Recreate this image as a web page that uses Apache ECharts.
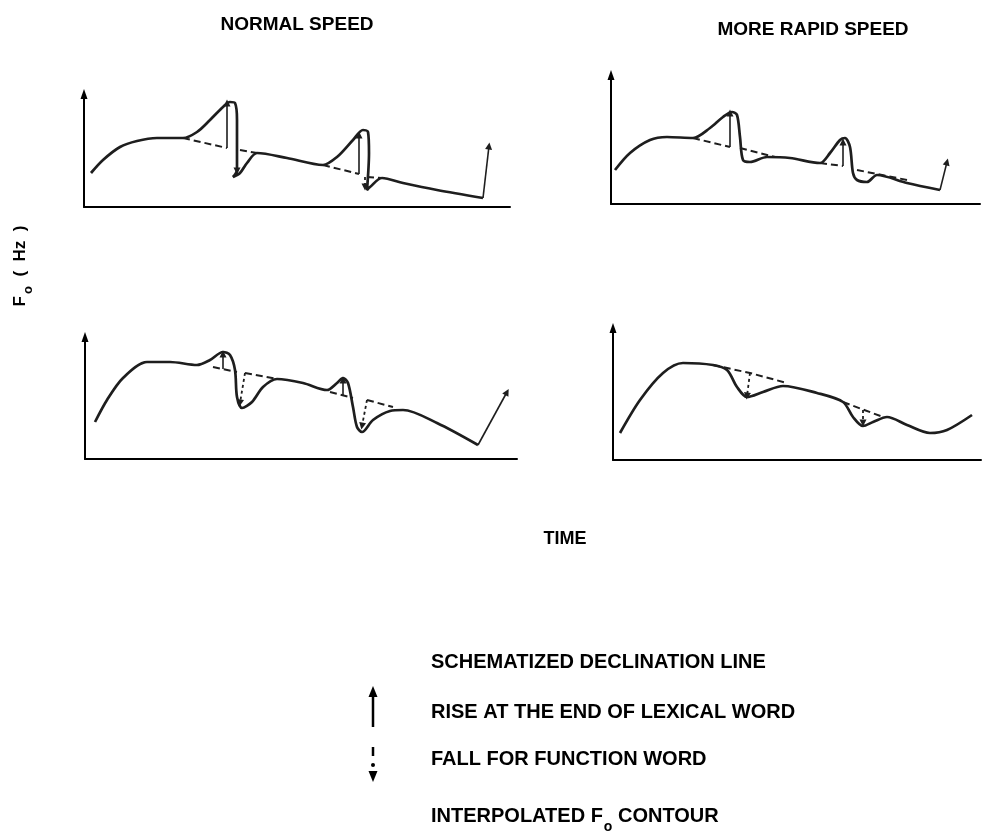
<!DOCTYPE html>
<html><head><meta charset="utf-8">
<script src="https://cdn.jsdelivr.net/npm/echarts@6/dist/echarts.min.js"></script>
<style>html,body{margin:0;padding:0;background:#fff}#c{width:982px;height:832px}</style>
</head><body><div id="c"></div>
<script>
// ---- texts ----
const panelTitles = ['NORMAL SPEED', 'MORE RAPID SPEED'];
const xAxisLabel = 'TIME';
const legendLabels = ['SCHEMATIZED DECLINATION LINE', 'RISE AT THE END OF LEXICAL WORD', 'FALL FOR FUNCTION WORD', 'INTERPOLATED F'];

// ---- panel 1: normal speed, rises ----
const p1Contour = [[7,34],[19,47],[36,60],[53,66],[73,69],[99,69],[113,75],[126,87],[139,100],[146,105],[151,104],[153,87],[153,37],[149,30],[156,34],[163,44],[173,54],[203,49],[239,42],[253,50],[269,67],[279,77],[284,75],[285,54],[283,17],[286,20],[298,29],[319,24],[353,17],[399,9]];
const p1Declination = [[[99,69],[143,59]], [[156,57],[173,54]], [[239,42],[275,33]], [[283,30],[298,29]]];
const p1Rises = [[[143,59],[143,104]], [[275,33],[275,72]], [[399,9],[405,61]]];
const p1Falls = [[[153,57],[153,36]], [[281,30],[281,20]]];

// ---- panel 2: rapid speed, rises ----
const p2Contour = [[4,34],[19,51],[39,64],[56,67],[82,66],[99,76],[112,87],[121,92],[126,89],[129,67],[132,44],[139,42],[156,47],[179,46],[209,41],[219,51],[229,64],[234,66],[239,57],[242,31],[246,24],[256,22],[266,29],[296,21],[329,14]];
const p2Declination = [[[82,66],[119,57]], [[129,56],[164,47]], [[209,41],[232,38]], [[246,34],[296,24]]];
const p2Rises = [[[119,57],[119,91]], [[232,38],[232,62]], [[329,14],[336,42]]];
const p2Falls = [];

// ---- panel 3: normal speed, falls ----
const p3Contour = [[10,37],[22,59],[38,81],[62,97],[85,97],[112,94],[125,99],[138,107],[145,104],[150,89],[152,62],[157,51],[167,57],[178,72],[192,80],[218,76],[242,69],[252,76],[258,81],[263,76],[268,52],[272,32],[277,27],[288,39],[305,48],[318,49],[352,36],[393,14]];
const p3Declination = [[[128,92],[152,87]], [[160,86],[192,80]], [[245,67],[268,61]], [[282,59],[308,52]]];
const p3Rises = [[[138,90],[138,105]], [[258,64],[258,79]], [[393,14],[422,67]]];
const p3Falls = [[[160,86],[155,56]], [[282,59],[277,33]]];

// ---- panel 4: rapid speed, falls ----
const p4Contour = [[7,27],[27,60],[50,87],[70,97],[100,95],[114,90],[124,73],[134,63],[150,68],[170,74],[204,67],[230,58],[240,43],[250,34],[260,38],[274,43],[294,35],[317,27],[334,30],[359,45]];
const p4Declination = [[[100,95],[137,87],[174,77]], [[230,58],[270,43]]];
const p4Rises = [];
const p4Falls = [[[137,87],[134,64]], [[250,50],[250,37]]];

// ---- layout ----
const panels = [
  {grid:{left:84, top:94, width:426, height:113}, contour:p1Contour, decl:p1Declination, rises:p1Rises, falls:p1Falls},
  {grid:{left:611, top:75, width:369, height:129}, contour:p2Contour, decl:p2Declination, rises:p2Rises, falls:p2Falls},
  {grid:{left:85, top:337, width:432, height:122}, contour:p3Contour, decl:p3Declination, rises:p3Rises, falls:p3Falls},
  {grid:{left:613, top:328, width:368, height:132}, contour:p4Contour, decl:p4Declination, rises:p4Rises, falls:p4Falls}
];

const INK = '#1e1e1e';
const FONT = 'Liberation Sans';

const grids = [], xAxes = [], yAxes = [], series = [];
panels.forEach((p, i) => {
  grids.push(Object.assign({containLabel:false}, p.grid));
  xAxes.push({type:'value', gridIndex:i, min:0, max:p.grid.width,
    axisLine:{show:true, onZero:false, lineStyle:{color:'#000', width:2}},
    axisTick:{show:false}, axisLabel:{show:false}, splitLine:{show:false}});
  yAxes.push({type:'value', gridIndex:i, min:0, max:p.grid.height,
    axisLine:{show:true, onZero:false, symbol:['none','triangle'], symbolSize:[7,10], lineStyle:{color:'#000', width:2}},
    axisTick:{show:false}, axisLabel:{show:false}, splitLine:{show:false}});
  series.push({
    type:'line', name:'INTERPOLATED F0 CONTOUR', xAxisIndex:i, yAxisIndex:i,
    data:p.contour, smooth:0.3, showSymbol:false, silent:true,
    lineStyle:{color:INK, width:2.7},
    markLine:{silent:true, symbol:['none','triangle'], symbolSize:7, label:{show:false},
      itemStyle:{color:INK},
      lineStyle:{color:INK, width:1.6, type:'solid'},
      emphasis:{disabled:true},
      data:p.rises.map(s => [{coord:s[0]}, {coord:s[1]}])}
  });
  p.decl.forEach((seg, k) => {
    const s = {
      type:'line', name:'SCHEMATIZED DECLINATION LINE', xAxisIndex:i, yAxisIndex:i,
      data:seg, showSymbol:false, silent:true,
      lineStyle:{color:INK, width:2, type:[7,4]}
    };
    if (k === 0 && p.falls.length) {
      s.markLine = {silent:true, symbol:['none','triangle'], symbolSize:7, label:{show:false},
        itemStyle:{color:INK},
        lineStyle:{color:INK, width:1.8, type:[3,3]},
        emphasis:{disabled:true},
        data:p.falls.map(f => [{coord:f[0]}, {coord:f[1]}])};
    }
    series.push(s);
  });
});

const mainText = {fontSize:20, fontWeight:'bold', fontFamily:FONT, fill:'#000'};
const graphics = [
  // y label
  {type:'text', x:21, y:266, rotation:Math.PI/2, style:{
    text:'{m|F}{s|o}{m|  (  Hz  )}', textAlign:'center', textVerticalAlign:'middle',
    rich:{m:{fontSize:17, fontWeight:'bold', fontFamily:FONT, fill:'#000', verticalAlign:'top', lineHeight:19},
          s:{fontSize:13, fontWeight:'bold', fontFamily:FONT, fill:'#000', verticalAlign:'top', padding:[10,0,0,2], lineHeight:13}}}},
  // x label
  {type:'text', x:565, y:539, style:{text:xAxisLabel, textAlign:'center', textVerticalAlign:'middle', fontSize:18, fontWeight:'bold', fontFamily:FONT, fill:'#000'}},
  // legend texts
  {type:'text', x:431, y:662, style:Object.assign({text:legendLabels[0], textVerticalAlign:'middle'}, mainText)},
  {type:'text', x:431, y:712, style:Object.assign({text:legendLabels[1], textVerticalAlign:'middle'}, mainText)},
  {type:'text', x:431, y:759, style:Object.assign({text:legendLabels[2], textVerticalAlign:'middle'}, mainText)},
  {type:'text', x:431, y:806, style:{text:'{m|' + legendLabels[3] + '}{s|o}{m| CONTOUR}', textVerticalAlign:'top',
    rich:{m:{fontSize:20, fontWeight:'bold', fontFamily:FONT, fill:'#000', verticalAlign:'top', lineHeight:22},
          s:{fontSize:14, fontWeight:'bold', fontFamily:FONT, fill:'#000', verticalAlign:'top', padding:[14,0,0,1], lineHeight:14}}}},
  // legend icon: rise (solid up arrow)
  {type:'line', shape:{x1:373, y1:727, x2:373, y2:694}, style:{stroke:'#000', lineWidth:2.5}},
  {type:'polygon', shape:{points:[[368.5,697],[377.5,697],[373,686]]}, style:{fill:'#000'}},
  // legend icon: fall (dashed down arrow)
  {type:'line', shape:{x1:373, y1:747, x2:373, y2:756}, style:{stroke:'#000', lineWidth:2.5}},
  {type:'circle', shape:{cx:373, cy:765, r:2}, style:{fill:'#000'}},
  {type:'polygon', shape:{points:[[368.5,771],[377.5,771],[373,782]]}, style:{fill:'#000'}}
];

const chart = echarts.init(document.getElementById('c'), null, {renderer:'canvas'});
chart.setOption({
  animation:false,
  backgroundColor:'#fff',
  title:[
    {text:panelTitles[0], left:292, top:10, textAlign:'center', textStyle:{fontSize:19, fontWeight:'bold', fontFamily:FONT, color:'#000'}},
    {text:panelTitles[1], left:808, top:15, textAlign:'center', textStyle:{fontSize:19, fontWeight:'bold', fontFamily:FONT, color:'#000'}}
  ],
  grid:grids, xAxis:xAxes, yAxis:yAxes, series:series, graphic:graphics
});
</script></body></html>
